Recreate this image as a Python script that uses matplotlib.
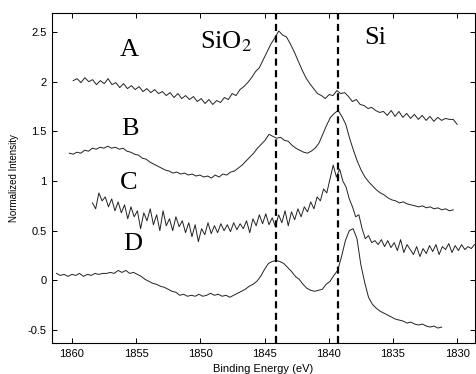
import matplotlib
matplotlib.use('Agg')
import numpy as np
import matplotlib.pyplot as plt

a_start, a_stop = 1859.9, 1830.0
spec_a = [2.01, 2.03, 1.99, 2.04, 2.00, 2.02, 1.97, 2.01, 1.98, 2.03,
          1.97, 1.99, 1.94, 1.98, 1.93, 1.96, 1.92, 1.95, 1.90, 1.93,
          1.89, 1.92, 1.88, 1.90, 1.86, 1.89, 1.84, 1.88, 1.83, 1.86,
          1.82, 1.85, 1.80, 1.83, 1.78, 1.82, 1.77, 1.81, 1.79, 1.84,
          1.82, 1.88, 1.86, 1.92, 1.95, 1.99, 2.04, 2.10, 2.14, 2.22,
          2.30, 2.38, 2.44, 2.51, 2.47, 2.45, 2.38, 2.30, 2.21, 2.12,
          2.04, 1.98, 1.93, 1.88, 1.86, 1.83, 1.87, 1.86, 1.91, 1.88,
          1.89, 1.85, 1.80, 1.82, 1.77, 1.76, 1.73, 1.74, 1.71, 1.69,
          1.70, 1.66, 1.71, 1.65, 1.70, 1.64, 1.68, 1.63, 1.67, 1.62,
          1.66, 1.61, 1.65, 1.60, 1.64, 1.61, 1.63, 1.62, 1.62, 1.57]

b_start, b_stop = 1860.2, 1830.3
spec_b = [1.28, 1.27, 1.29, 1.28, 1.31, 1.30, 1.33, 1.32, 1.34, 1.33,
          1.35, 1.33, 1.34, 1.32, 1.33, 1.30, 1.29, 1.27, 1.26, 1.23,
          1.22, 1.19, 1.17, 1.15, 1.13, 1.11, 1.10, 1.08, 1.09, 1.07,
          1.08, 1.06, 1.07, 1.05, 1.06, 1.04, 1.05, 1.03, 1.06, 1.04,
          1.07, 1.06, 1.09, 1.10, 1.13, 1.16, 1.20, 1.24, 1.28, 1.33,
          1.37, 1.41, 1.47, 1.45, 1.43, 1.44, 1.41, 1.40, 1.36, 1.33,
          1.31, 1.29, 1.28, 1.30, 1.33, 1.38, 1.47, 1.56, 1.64, 1.68,
          1.71, 1.65, 1.57, 1.43, 1.31, 1.20, 1.11, 1.04, 0.99, 0.95,
          0.91, 0.88, 0.86, 0.83, 0.81, 0.80, 0.78, 0.79, 0.77, 0.76,
          0.75, 0.74, 0.75, 0.73, 0.74, 0.72, 0.73, 0.71, 0.72, 0.70, 0.71]

c_start, c_stop = 1858.4, 1828.65
spec_c = [0.78, 0.72, 0.88, 0.80, 0.84, 0.74, 0.82, 0.70, 0.79, 0.68,
          0.76, 0.62, 0.74, 0.64, 0.70, 0.52, 0.68, 0.60, 0.72, 0.56,
          0.66, 0.50, 0.70, 0.55, 0.62, 0.50, 0.64, 0.54, 0.60, 0.48,
          0.58, 0.44, 0.56, 0.39, 0.52, 0.46, 0.58, 0.47, 0.55, 0.48,
          0.57, 0.50, 0.56, 0.49, 0.58, 0.51, 0.57, 0.52, 0.60, 0.48,
          0.62, 0.55, 0.66, 0.57, 0.67, 0.56, 0.63, 0.54, 0.66, 0.58,
          0.70, 0.55, 0.69, 0.61, 0.72, 0.64, 0.74, 0.69, 0.79, 0.72,
          0.84, 0.80, 0.92, 0.88, 1.02, 1.16, 1.04, 1.12, 1.00, 0.94,
          0.82, 0.74, 0.64, 0.66, 0.52, 0.42, 0.45, 0.38, 0.40, 0.36,
          0.41, 0.34, 0.40, 0.33, 0.38, 0.30, 0.41, 0.28, 0.36, 0.31,
          0.26, 0.34, 0.24, 0.32, 0.27, 0.35, 0.29, 0.36, 0.26, 0.34,
          0.31, 0.37, 0.28, 0.35, 0.30, 0.36, 0.31, 0.34, 0.32, 0.36]

d_start, d_stop = 1861.2, 1831.2
spec_d = [0.07, 0.05, 0.06, 0.04, 0.06, 0.05, 0.07, 0.04, 0.06, 0.05,
          0.07, 0.06, 0.07, 0.07, 0.08, 0.07, 0.10, 0.08, 0.10, 0.07,
          0.08, 0.06, 0.04, 0.01, -0.01, -0.03, -0.04, -0.06, -0.07, -0.09,
          -0.11, -0.12, -0.15, -0.14, -0.16, -0.15, -0.16, -0.14, -0.16, -0.15,
          -0.13, -0.15, -0.14, -0.16, -0.15, -0.17, -0.15, -0.13, -0.11, -0.09,
          -0.06, -0.04, -0.01, 0.04, 0.11, 0.17, 0.19, 0.20, 0.19, 0.17,
          0.13, 0.09, 0.04, 0.01, -0.04, -0.08, -0.10, -0.11, -0.10, -0.09,
          -0.04, -0.01, 0.05, 0.10, 0.24, 0.40, 0.50, 0.52, 0.42, 0.16,
          -0.02, -0.17, -0.24, -0.28, -0.31, -0.33, -0.35, -0.37, -0.39, -0.40,
          -0.41, -0.43, -0.42, -0.44, -0.45, -0.44, -0.46, -0.47, -0.46, -0.48, -0.47]

peak_lines = [1844.1, 1839.3]
curve_labels = ['A', 'B', 'C', 'D']
label_x = [1855.5, 1855.5, 1855.6, 1855.3]
label_y = [2.32, 1.52, 0.98, 0.37]

plt.rcParams['mathtext.fontset'] = 'stix'
fig = plt.figure(figsize=(4.77, 3.74), dpi=100)
ax = fig.add_axes([0.109, 0.083, 0.887, 0.882])

spectra = [(a_start, a_stop, spec_a), (b_start, b_stop, spec_b),
           (c_start, c_stop, spec_c), (d_start, d_stop, spec_d)]
for start, stop, vals in spectra:
    e = np.linspace(start, stop, len(vals))
    ax.plot(e, vals, color='#222222', lw=0.7)

for xv in peak_lines:
    ax.axvline(xv, color='black', lw=1.6, linestyle=(0, (3.2, 2.0)))

for lab, x, y in zip(curve_labels, label_x, label_y):
    ax.text(x, y, lab, fontsize=19, family='Liberation Serif', ha='center', va='center')
ax.text(1848.0, 2.40, r'SiO$_2$', fontsize=19, family='Liberation Serif', ha='center', va='center')
ax.text(1836.4, 2.44, 'Si', fontsize=19, family='Liberation Serif', ha='center', va='center')

ax.set_xlim(1861.55, 1828.6)
ax.set_ylim(-0.63, 2.69)
ax.set_xticks([1860, 1855, 1850, 1845, 1840, 1835, 1830])
ax.set_yticks([-0.5, 0, 0.5, 1, 1.5, 2, 2.5])
ax.set_yticklabels(['-0.5', '0', '0.5', '1', '1.5', '2', '2.5'])
ax.tick_params(direction='in', top=True, right=True, length=3.5, width=0.7,
               labelsize=8, pad=4)
for t in ax.get_xticklabels() + ax.get_yticklabels():
    t.set_family('Liberation Sans')
for s in ax.spines.values():
    s.set_linewidth(0.8)

ax.set_xlabel('Binding Energy (eV)', fontsize=8, family='Liberation Sans', labelpad=4)
ax.set_ylabel('Normalized Intensity', fontsize=7, family='Liberation Sans', labelpad=6)

fig.savefig('out.png', dpi=100)
